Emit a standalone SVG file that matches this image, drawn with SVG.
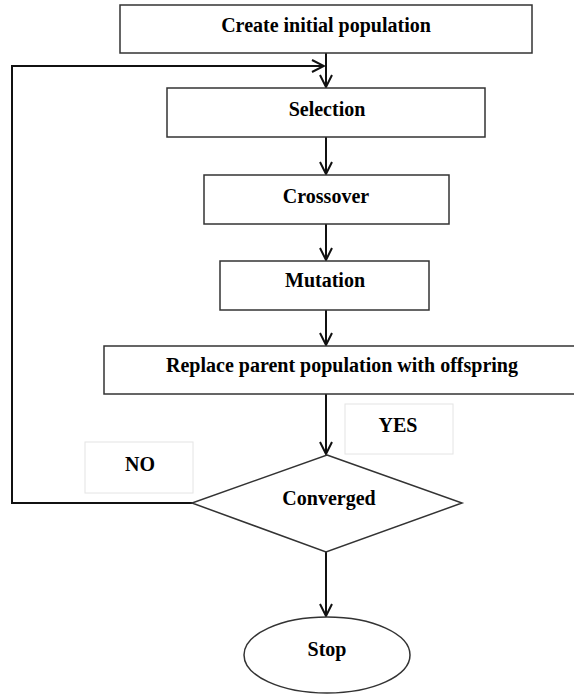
<svg xmlns="http://www.w3.org/2000/svg" width="574" height="694" viewBox="0 0 574 694">
<style>
.box{fill:#fff;stroke:#333;stroke-width:1.5}
.lbl{fill:#fff;stroke:#e4e4e4;stroke-width:1}
.t{font-family:"Liberation Serif","Times New Roman",serif;font-weight:bold;font-size:20px;fill:#000;text-anchor:middle}
.c{fill:none;stroke:#111;stroke-width:2}
</style>
<defs>
<marker id="ah" viewBox="-13 -7 14 14" refX="0" refY="0" markerWidth="14" markerHeight="14" markerUnits="userSpaceOnUse" orient="auto">
<path d="M-12,-6 L0,0 L-12,6" fill="none" stroke="#111" stroke-width="2"/>
</marker>
</defs>
<rect width="574" height="694" fill="#fff"/>
<g id="connectors">
<path class="c" d="M326,53 V87" marker-end="url(#ah)"/>
<path class="c" d="M193,503 H12 V66 H324" marker-end="url(#ah)"/>
<path class="c" d="M326,137 V174" marker-end="url(#ah)"/>
<path class="c" d="M326,224 V260" marker-end="url(#ah)"/>
<path class="c" d="M326,310 V345" marker-end="url(#ah)"/>
<path class="c" d="M326,394 V454" marker-end="url(#ah)"/>
<path class="c" d="M326,552 V616" marker-end="url(#ah)"/>
</g>
<g id="create">
<rect class="box" x="120" y="5" width="412" height="48"/>
<text class="t" x="326" y="32">Create initial population</text>
</g>
<g id="selection">
<rect class="box" x="167" y="88" width="318" height="49"/>
<text class="t" x="327" y="116">Selection</text>
</g>
<g id="crossover">
<rect class="box" x="204" y="175" width="245" height="49"/>
<text class="t" x="326" y="203">Crossover</text>
</g>
<g id="mutation">
<rect class="box" x="220" y="261" width="209" height="49"/>
<text class="t" x="325" y="287">Mutation</text>
</g>
<g id="replace">
<rect class="box" x="104" y="346" width="480" height="48"/>
<text class="t" x="342" y="372">Replace parent population with offspring</text>
</g>
<g id="yes">
<rect class="lbl" x="345" y="404" width="108" height="50"/>
<text class="t" x="398" y="432">YES</text>
</g>
<g id="no">
<rect class="lbl" x="85" y="442" width="108" height="51"/>
<text class="t" x="140" y="471">NO</text>
</g>
<g id="converged">
<polygon class="box" points="327,455 462,503 326,552 192,503"/>
<text class="t" x="329" y="505">Converged</text>
</g>
<g id="stop">
<ellipse class="box" cx="327" cy="655" rx="83" ry="38"/>
<text class="t" x="327" y="656">Stop</text>
</g>
</svg>
